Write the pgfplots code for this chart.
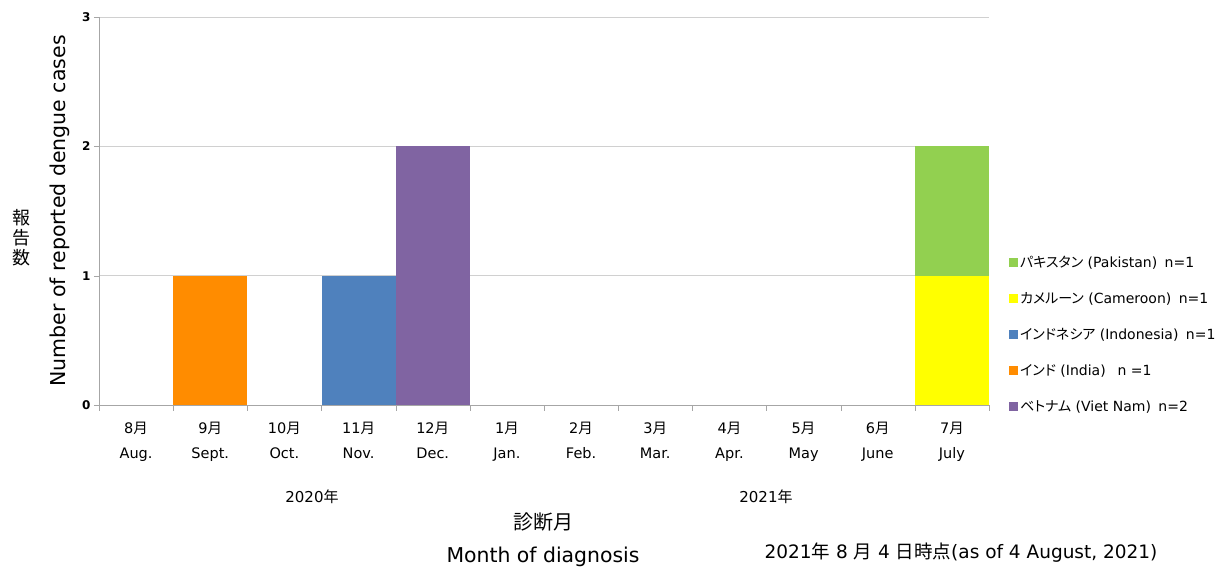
\documentclass[border=0pt]{standalone}
\usepackage{fontspec}
\setmainfont{DejaVu Sans}
\newfontfamily\ja{Noto Sans CJK JP}
\newfontfamily\jap[RawFeature=+palt]{Noto Sans CJK JP}
\usepackage{pgfplots}
\pgfplotsset{compat=1.18}

\definecolor{cPak}{HTML}{92D050}
\definecolor{cCam}{HTML}{FFFF00}
\definecolor{cIdn}{HTML}{4F81BD}
\definecolor{cInd}{HTML}{FF8C00}
\definecolor{cVnm}{HTML}{8064A2}
\definecolor{gridgray}{HTML}{D0D0D0}
\definecolor{axisgray}{HTML}{A6A6A6}

\newcommand{\tsz}{\fontsize{14.5}{25}\selectfont}
\newcommand{\gap}{\hspace{7.5pt}}

\begin{document}
\begin{tikzpicture}
% page = reference size, 1pt per pixel; axis origin at pixel (99,405)
\useasboundingbox (-99pt,-164pt) rectangle (1117pt,405pt);
\begin{axis}[
	ybar stacked,
	bar width=1,
	scale only axis,
	width=890pt,
	height=388pt,
	xmin=-0.5, xmax=11.5,
	ymin=0, ymax=3,
	ytick={0,1,2,3},
	yticklabel style={font=\fontsize{12}{14}\selectfont\bfseries},
	/pgf/number format/assume math mode=true,
	xtick={0,...,11},
	xticklabels={8{\ja 月}\\Aug., 9{\ja 月}\\Sept., 10{\ja 月}\\Oct., 11{\ja 月}\\Nov., 12{\ja 月}\\Dec., 1{\ja 月}\\Jan., 2{\ja 月}\\Feb., 3{\ja 月}\\Mar., 4{\ja 月}\\Apr., 5{\ja 月}\\May, 6{\ja 月}\\June, 7{\ja 月}\\July},
	xticklabel style={align=center, font=\tsz, yshift=-9pt},
	major x tick style={draw=none},
	minor xtick={-0.5,0.5,...,11.5},
	minor x tick style={axisgray},
	tick align=outside,
	minor tick length=6pt,
	major tick length=5pt,
	y tick style={axisgray},
	ymajorgrids=true,
	grid style={gridgray},
	axis x line*=bottom,
	axis y line*=left,
	axis line style={axisgray},
	x axis line style={-},
	y axis line style={-},
	reverse legend,
	legend cell align=left,
	legend style={
		at={(rel axis cs:1.019,0.395)}, anchor=north west,
		draw=none, fill=none,
		font=\fontsize{14}{16}\selectfont,
		row sep=19.5pt,
		/tikz/every even column/.append style={column sep=0pt},
	},
	legend image code/.code={\fill[#1,draw=none] (0pt,-4.5pt) rectangle (9pt,4.5pt);},
]
\addplot+[fill=cVnm, draw=none] coordinates {(0,0) (1,0) (2,0) (3,0) (4,2) (5,0) (6,0) (7,0) (8,0) (9,0) (10,0) (11,0)};
\addlegendentry{{\jap ベトナム} (Viet Nam)\gap n=2}
\addplot+[fill=cInd, draw=none] coordinates {(0,0) (1,1) (2,0) (3,0) (4,0) (5,0) (6,0) (7,0) (8,0) (9,0) (10,0) (11,0)};
\addlegendentry{{\jap インド} (India)\gap\ n =1}
\addplot+[fill=cIdn, draw=none] coordinates {(0,0) (1,0) (2,0) (3,1) (4,0) (5,0) (6,0) (7,0) (8,0) (9,0) (10,0) (11,0)};
\addlegendentry{{\jap インドネシア} (Indonesia)\gap n=1}
\addplot+[fill=cCam, draw=none] coordinates {(0,0) (1,0) (2,0) (3,0) (4,0) (5,0) (6,0) (7,0) (8,0) (9,0) (10,0) (11,1)};
\addlegendentry{{\jap カメルーン} (Cameroon)\gap n=1}
\addplot+[fill=cPak, draw=none] coordinates {(0,0) (1,0) (2,0) (3,0) (4,0) (5,0) (6,0) (7,0) (8,0) (9,0) (10,0) (11,1)};
\addlegendentry{{\jap パキスタン} (Pakistan)\gap n=1}
\end{axis}
% labels round the axis
\node[rotate=90, font=\fontsize{20.5}{24}\selectfont] at (-39pt,194pt) {Number of reported dengue cases};
\node[align=center, font=\ja\fontsize{18}{20}\selectfont] at (-77pt,167pt) {報\\告\\数};
\node[font=\fontsize{15}{17}\selectfont] at (213pt,-92pt) {2020{\ja 年}};
\node[font=\fontsize{15}{17}\selectfont] at (667pt,-92pt) {2021{\ja 年}};
\node[font=\ja\fontsize{20}{22}\selectfont] at (444pt,-117pt) {診断月};
\node[font=\fontsize{20.4}{22}\selectfont] at (444pt,-152pt) {Month of diagnosis};
\node[font=\fontsize{18.5}{20}\selectfont] at (862pt,-148pt) {2021{\ja 年} 8 {\ja 月} 4 {\ja 日時点}(as of 4 August, 2021)};
\end{tikzpicture}
\end{document}
